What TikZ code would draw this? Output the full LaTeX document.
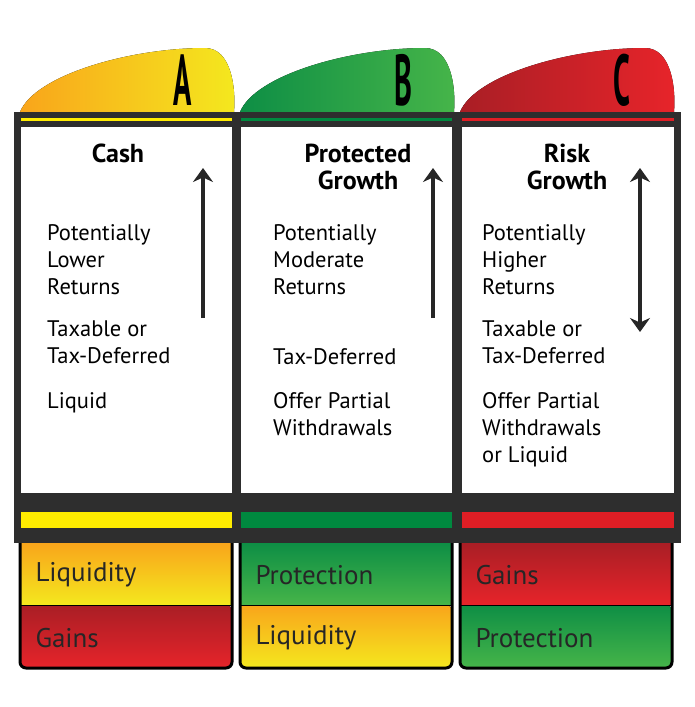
\documentclass[tikz,border=0pt]{standalone}
\usepackage{fontspec}
\usetikzlibrary{arrows.meta}
\setmainfont{PT Sans}
\definecolor{dk}{HTML}{2E2E2E}
\definecolor{yl}{HTML}{FFEC00}
\definecolor{gr}{HTML}{00893F}
\definecolor{rd}{HTML}{E01E25}
\definecolor{yA}{HTML}{F9A51B}\definecolor{yB}{HTML}{F4E81E}
\definecolor{gA}{HTML}{0E8E45}\definecolor{gB}{HTML}{46B549}
\definecolor{rA}{HTML}{A91E25}\definecolor{rB}{HTML}{E7242A}
\tikzset{
 title/.style={font=\fontsize{26}{27}\selectfont\bfseries,align=center,text=black,inner sep=0},
 body/.style={font=\fontsize{22.5}{27}\selectfont,anchor=north west,align=left,inner sep=0,text=black},
 lab/.style={font=\fontsize{27}{28}\selectfont,anchor=west,text=black!85},
 letter/.style={font=\fontsize{72}{72}\selectfont\bfseries,xscale=0.42,inner sep=0},
 arr/.style={line width=4.5pt,-{Stealth[length=14pt,width=20pt]},draw=black!85},
}
\begin{document}
\begin{tikzpicture}[x=1pt,y=-1pt]
\useasboundingbox (0,0) rectangle (695,707);
% tabs
\foreach \x/\ca/\cb in {20/yA/yB,240/gA/gB,460/rA/rB}{
 \fill[left color=\ca,right color=\cb] (\x,112) .. controls (\x+15,75) and (\x+110,48) .. (\x+185,48)
   .. controls (\x+212,48) and (\x+216,90) .. (\x+214,112) -- cycle;
}
\node[letter] (la) at (183,80) {A};
\node[letter] (lb) at (403,80) {B};
\node[letter] (lc) at (622,80) {C};
% frame
\fill[dk] (14,112) rectangle (681,543);
\fill[yl] (21,118) rectangle (232,121);
\fill[gr] (241,118) rectangle (452,121);
\fill[rd] (462,118) rectangle (674,121);
\fill[white] (21,127) rectangle (232,493);
\fill[white] (241,127) rectangle (452,493);
\fill[white] (462,127) rectangle (674,493);
\fill[yl] (21,512) rectangle (232,528);
\fill[gr] (241,512) rectangle (452,528);
\fill[rd] (462,512) rectangle (674,528);
% bottom boxes
\foreach \x/\ta/\tb/\ba/\bb in {20/yA/yB/rA/rB,240/gA/gB/yA/yB,460/rA/rB/gA/gB}{
 \fill[top color=\ta,bottom color=\tb] (\x,543) rectangle (\x+212,605);
 \fill[top color=\ba,bottom color=\bb,rounded corners=6pt] (\x,605) -- (\x,668) -- (\x+212,668) -- (\x+212,605) [sharp corners]-- cycle;
 \draw[line width=1pt,black] (\x,605) -- (\x+212,605);
 \draw[line width=3pt,black,rounded corners=6pt] (\x,543) -- (\x,668) -- (\x+212,668) -- (\x+212,543);
}
\node[lab] (b1) at (32,575) {Liquidity};
\node[lab] (b2) at (32,638) {Gains};
\node[lab] (b3) at (252,575) {Protection};
\node[lab] (b4) at (252,638) {Liquidity};
\node[lab] (b5) at (472,575) {Gains};
\node[lab] (b6) at (472,638) {Protection};
% titles
\node[title] (t1) at (118,153) {Cash};
\node[title] (t2) at (358,167) {Protected\\Growth};
\node[title] (t3) at (567,167) {Risk\\Growth};
% bodies
\node[body] (a1) at (47,224) {Potentially\\Lower\\Returns};
\node[body] (a2) at (47,321) {Taxable or\\Tax-Deferred};
\node[body] (a3) at (47,392) {Liquid};
\node[body] (c1) at (273,224) {Potentially\\Moderate\\Returns};
\node[body] (c2) at (273,348) {Tax-Deferred};
\node[body] (c3) at (273,392) {Offer Partial\\Withdrawals};
\node[body] (d1) at (482,224) {Potentially\\Higher\\Returns};
\node[body] (d2) at (482,321) {Taxable or\\Tax-Deferred};
\node[body] (d3) at (482,392) {Offer Partial\\Withdrawals\\or Liquid};
% arrows
\coordinate (p1) at (203,318); \coordinate (q1) at (203,168);
\coordinate (p2) at (433,318); \coordinate (q2) at (433,168);
\coordinate (p3) at (640,332); \coordinate (q3) at (640,168);
\draw[arr] (p1) -- (q1);
\draw[arr] (p2) -- (q2);
\draw[arr,{Stealth[length=14pt,width=20pt]}-{Stealth[length=14pt,width=20pt]}] (p3) -- (q3);
\end{tikzpicture}
\end{document}
